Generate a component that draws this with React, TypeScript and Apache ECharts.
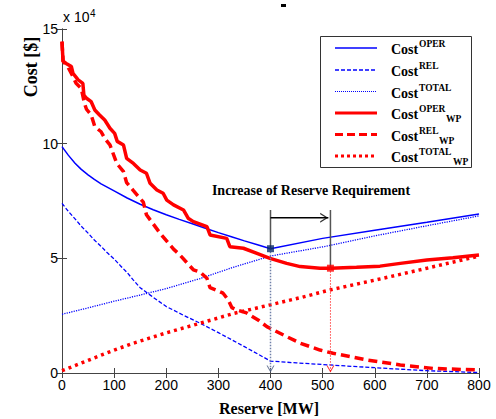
import React, { useEffect, useRef } from "react";
import * as echarts from "echarts";

// ---------- data (Reserve [MW], Cost [x10^4 $]) ----------
const xTicks = [0, 100, 200, 300, 400, 500, 600, 700, 800];
const yTicks = [0, 5, 10, 15];

const costOper: [number, number][] = [
  [0, 9.87], [12, 9.5], [25, 9.15], [37, 8.88], [50, 8.64], [62, 8.44],
  [75, 8.25], [100, 7.94], [125, 7.63], [150, 7.36], [175, 7.12], [200, 6.9],
  [225, 6.7], [250, 6.51], [275, 6.31], [300, 6.12], [325, 5.94], [350, 5.76],
  [375, 5.59], [400, 5.42], [500, 5.87], [600, 6.22], [700, 6.57], [800, 6.93],
];
const costRel: [number, number][] = [
  [0, 7.4], [12, 7.05], [25, 6.72], [37, 6.4], [50, 6.1], [62, 5.8], [75, 5.52],
  [87, 5.24], [100, 4.97], [112, 4.68], [125, 4.38], [137, 4.05], [150, 3.72],
  [175, 3.3], [200, 2.9], [232, 2.53], [265, 2.17], [300, 1.76], [350, 1.15],
  [400, 0.52], [450, 0.44], [500, 0.37], [600, 0.23], [700, 0.1], [800, 0.02],
];
const costTotal: [number, number][] = [
  [0, 2.56], [50, 2.84], [100, 3.13], [150, 3.4], [200, 3.68], [265, 4.12],
  [330, 4.62], [400, 5.1], [450, 5.3], [500, 5.5], [600, 5.98], [700, 6.42],
  [800, 6.85],
];
const costOperWP: [number, number][] = [
  [0, 14.45], [2, 13.6], [8, 13.5], [18, 13.36], [21, 13.07], [31, 12.78],
  [40, 12.63], [42, 12.12], [47, 11.98], [56, 11.83], [63, 11.47], [72, 11.25],
  [82, 11.03], [92, 10.67], [101, 10.45], [106, 10.1], [118, 9.94], [124, 9.36],
  [137, 9.14], [150, 8.85], [162, 8.71], [169, 8.27], [182, 7.98], [194, 7.84],
  [201, 7.54], [214, 7.33], [233, 7.11], [242, 6.75], [252, 6.6], [278, 6.38],
  [284, 6.02], [316, 5.87], [322, 5.51], [348, 5.44], [374, 5.22], [399, 5.0],
  [431, 4.78], [457, 4.64], [495, 4.57], [515, 4.57], [565, 4.61], [610, 4.66],
  [649, 4.78], [700, 4.93], [750, 5.03], [800, 5.15],
];
const costRelWP: [number, number][] = [
  [0, 14.45], [2, 13.6], [11, 13.36], [21, 12.93], [27, 12.63], [37, 12.41],
  [43, 11.76], [47, 11.5], [56, 11.25], [63, 10.74], [75, 10.52], [82, 10.23],
  [92, 9.95], [105, 9.14], [118, 8.78], [124, 8.3], [137, 7.95], [156, 7.45],
  [162, 6.9], [175, 6.5], [188, 6.1], [201, 5.75], [214, 5.4], [226, 5.15],
  [252, 4.5], [265, 4.4], [278, 4.13], [284, 3.72], [297, 3.6], [309, 3.48],
  [319, 3.18], [326, 2.85], [335, 2.75], [354, 2.62], [377, 2.3], [393, 2.02],
  [405, 1.88], [430, 1.6], [457, 1.3], [495, 1.0], [520, 0.86], [585, 0.57],
  [649, 0.35], [712, 0.2], [800, 0.13],
];
const costTotalWP: [number, number][] = [
  [0, 0.1], [50, 0.55], [100, 1.0], [137, 1.3], [200, 1.75], [265, 2.17],
  [330, 2.6], [399, 2.97], [460, 3.3], [514, 3.62], [616, 4.13], [700, 4.57],
  [800, 5.1],
];

// annotation points
const optimumBase: [number, number] = [400, 5.42];
const optimumWP: [number, number] = [515, 4.57];
const guideTop = 7.11;
const arrowY = 6.77;
const arrowHeadX = 503;
const chevronY = 0.17;

const legendRows = [
  { sup: "OPER", sub: "", color: "#0000ff", width: 1.5, dash: [] as number[], subX: 0 },
  { sup: "REL", sub: "", color: "#0000ff", width: 1.3, dash: [4, 2], subX: 0 },
  { sup: "TOTAL", sub: "", color: "#0000ff", width: 1.2, dash: [1, 1], subX: 0 },
  { sup: "OPER", sub: "WP", color: "#ff0000", width: 3.2, dash: [] as number[], subX: 446 },
  { sup: "REL", sub: "WP", color: "#ff0000", width: 3.2, dash: [8, 4], subX: 439 },
  { sup: "TOTAL", sub: "WP", color: "#ff0000", width: 3.2, dash: [3, 3], subX: 453 },
];

const SERIF = '"Liberation Serif", "Times New Roman", serif';
const SANS = '"Liberation Sans", Arial, sans-serif';
const CHEVRON = "path://M0,0 L5,9 L10,0 L8.6,0 L5,6.4 L1.4,0 Z";

export default function App() {
  const ref = useRef<HTMLDivElement>(null);
  useEffect(() => {
    const chart = echarts.init(ref.current!, null, { renderer: "svg" });

    const axisLine = { show: true, lineStyle: { color: "#444", width: 1 } };
    const tick = { show: true, inside: true, length: 5, lineStyle: { color: "#444" } };

    const line = (name: string, data: [number, number][], color: string, width: number, dash: any, z = 2) => ({
      name, type: "line", data, symbol: "none", smooth: false, z,
      lineStyle: { color, width, type: dash },
    });

    const legendGraphics: any[] = [
      {
        type: "rect", shape: { x: 320.5, y: 36.5, width: 151, height: 131 },
        style: { fill: "#fff", stroke: "#333", lineWidth: 1 }, z: 10,
      },
    ];
    const rowYs = [48, 70, 91.5, 113, 134.5, 156];
    legendRows.forEach((r, i) => {
      const y = rowYs[i];
      legendGraphics.push({
        type: "line", shape: { x1: 335, y1: y, x2: 377, y2: y },
        style: { stroke: r.color, lineWidth: r.width, lineDash: r.dash.length ? r.dash : null }, z: 11,
      });
      legendGraphics.push({
        type: "text", x: 391, y: y + 1.5, z: 11,
        style: { text: "Cost", font: `bold 14px ${SERIF}`, fill: "#000", verticalAlign: "middle" },
      });
      legendGraphics.push({
        type: "text", x: 419, y: y - 4, z: 11,
        style: { text: r.sup, font: `bold 9.5px ${SERIF}`, fill: "#000", verticalAlign: "middle" },
      });
      if (r.sub) {
        legendGraphics.push({
          type: "text", x: r.subX, y: y + 6, z: 11,
          style: { text: r.sub, font: `bold 9.5px ${SERIF}`, fill: "#000", verticalAlign: "middle" },
        });
      }
    });

    chart.setOption({
      animation: false,
      backgroundColor: "#fff",
      grid: { left: 62, right: 17, top: 29, bottom: 46, containLabel: false },
      xAxis: [
        {
          type: "value", min: 0, max: 800, interval: 100,
          axisLine, axisTick: tick, splitLine: { show: false },
          axisLabel: {
            color: "#000", fontFamily: SANS, fontSize: 14, margin: 5,
            formatter: (v: number) => (xTicks.includes(v) ? String(v) : ""),
          },
        },
        {
          type: "value", position: "top", min: 0, max: 800, interval: 100,
          axisLine, axisTick: tick, axisLabel: { show: false }, splitLine: { show: false },
        },
      ],
      yAxis: [
        {
          type: "value", min: 0, max: 15, interval: 5,
          axisLine, axisTick: tick, splitLine: { show: false },
          axisLabel: {
            color: "#000", fontFamily: SANS, fontSize: 14, margin: 4,
            formatter: (v: number) => (yTicks.includes(v) ? String(v) : ""),
          },
        },
        {
          type: "value", position: "right", min: 0, max: 15, interval: 5,
          axisLine, axisTick: tick, axisLabel: { show: false }, splitLine: { show: false },
        },
      ],
      series: [
        line("Cost OPER", costOper, "#0000ff", 1.5, "solid"),
        line("Cost REL", costRel, "#0000ff", 1.3, [4, 2]),
        line("Cost TOTAL", costTotal, "#0000ff", 1.3, [1.2, 1.2]),
        line("Cost OPER WP", costOperWP, "#ff0000", 3.5, "solid"),
        line("Cost REL WP", costRelWP, "#ff0000", 3.5, [9, 5]),
        line("Cost TOTAL WP", costTotalWP, "#ff0000", 3.5, [3, 4]),
        // guide lines
        line("guide base", [[optimumBase[0], guideTop], optimumBase], "#555", 1.5, "solid", 3),
        line("guide wp", [[optimumWP[0], guideTop], optimumWP], "#555", 1.5, "solid", 3),
        line("arrow", [[optimumBase[0], arrowY], [arrowHeadX + 8, arrowY]], "#000", 1.3, "solid", 3),
        line("drop base", [optimumBase, [optimumBase[0], 0.05]], "#7080a8", 1.5, [1.5, 1.5], 3),
        line("drop wp", [optimumWP, [optimumWP[0], 0.05]], "#ff4040", 1, [1.5, 1.5], 3),
        {
          type: "scatter", z: 5, data: [[arrowHeadX, arrowY]], symbol: CHEVRON,
          symbolSize: [10, 8], symbolRotate: 90, itemStyle: { color: "#000" },
        },
        {
          type: "scatter", z: 5, data: [[optimumBase[0], chevronY]], symbol: CHEVRON,
          symbolSize: [8, 7], itemStyle: { color: "#4a5a80" },
        },
        {
          type: "scatter", z: 5, data: [[optimumWP[0], chevronY]], symbol: CHEVRON,
          symbolSize: [8, 7], itemStyle: { color: "#ff0000" },
        },
        {
          type: "scatter", z: 6, data: [optimumBase], symbol: "rect",
          symbolSize: 7, itemStyle: { color: "#0a2a6a" },
        },
        {
          type: "scatter", z: 6, data: [optimumWP], symbol: "rect",
          symbolSize: 7, itemStyle: { color: "#ff0000" },
        },
      ],
      graphic: [
        { type: "rect", shape: { x: 281, y: 4, width: 5, height: 3 }, style: { fill: "#000" } },
        {
          type: "text", x: 63, y: 24,
          style: { text: "x 10", font: `14px ${SANS}`, fill: "#000", verticalAlign: "bottom" },
        },
        {
          type: "text", x: 90, y: 18,
          style: { text: "4", font: `10px ${SANS}`, fill: "#000", verticalAlign: "bottom" },
        },
        {
          type: "text", x: 31, y: 67, rotation: Math.PI / 2,
          style: { text: "Cost [$]", font: `bold 18px ${SERIF}`, fill: "#000", align: "center", verticalAlign: "middle" },
        },
        {
          type: "text", x: 269, y: 408,
          style: { text: "Reserve [MW]", font: `bold 16px ${SERIF}`, fill: "#000", align: "center", verticalAlign: "middle" },
        },
        {
          type: "text", x: 311, y: 190,
          style: { text: "Increase of Reserve Requirement", font: `bold 14px ${SERIF}`, fill: "#000", align: "center", verticalAlign: "middle" },
        },
        ...legendGraphics,
      ],
    });
    return () => chart.dispose();
  }, []);
  return <div ref={ref} style={{ position: "fixed", left: 0, top: 0, width: 496, height: 419 }} />;
}
